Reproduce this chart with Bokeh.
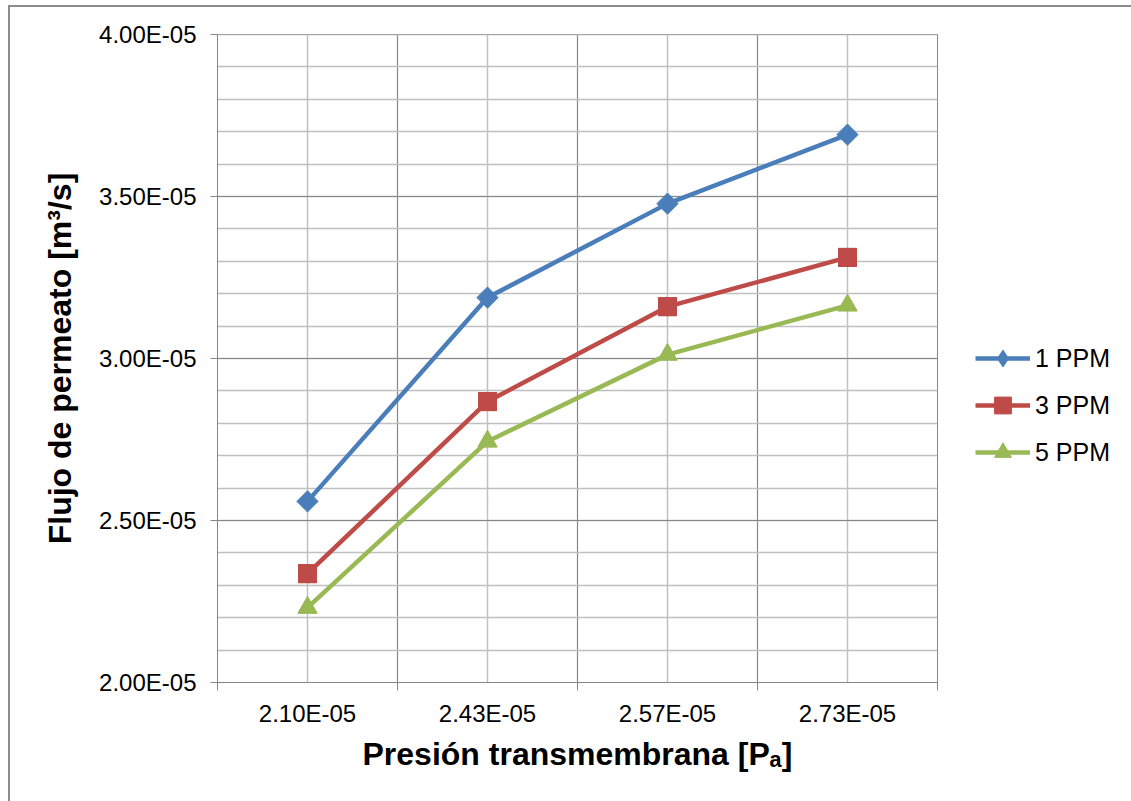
import math
from bokeh.plotting import figure
from bokeh.models import (FixedTicker, CustomJSTickFormatter, Legend, LegendItem,
                          ColumnDataSource)
from bokeh.embed import file_html
from bokeh.resources import INLINE

# Transmembrane pressure categories and permeate flux per concentration
presion_labels = ["2.10E-05", "2.43E-05", "2.57E-05", "2.73E-05"]
flujo_1ppm = [2.559e-5, 3.188e-5, 3.478e-5, 3.691e-5]
flujo_3ppm = [2.336e-5, 2.867e-5, 3.160e-5, 3.312e-5]
flujo_5ppm = [2.231e-5, 2.744e-5, 3.012e-5, 3.164e-5]
series_names = ["1 PPM", "3 PPM", "5 PPM"]

y_major = [2.0e-5, 2.5e-5, 3.0e-5, 3.5e-5, 4.0e-5]
y_minor = [2.0e-5 + i * 0.1e-5 for i in range(21)]

FONT = "Liberation Sans"
DARK = "#868686"
LIGHT = "#c0c0c0"

# category slots: centres at i + 0.5, boundaries at integers
xc = [i + 0.5 for i in range(len(presion_labels))]
xb = [float(i) for i in range(len(presion_labels) + 1)]

p = figure(frame_width=720, frame_height=648,
           min_border_left=207, min_border_right=194,
           min_border_top=27, min_border_bottom=119,
           x_range=(0, len(presion_labels)), y_range=(2.0e-5, 4.0e-5),
           output_backend="svg", toolbar_location=None,
           background_fill_color="white", border_fill_color="white")
p.margin = (5, 0, 0, 8)
p.styles = {"border-top": "2px solid #8c8c8c", "border-left": "2px solid #8c8c8c"}
p.outline_line_color = DARK
p.outline_line_width = 1

# x axis: labels at slot centres, tick marks at slot boundaries
xt = FixedTicker(ticks=xc, minor_ticks=xb)
p.xaxis.ticker = xt
p.xaxis.major_label_overrides = {x: lab for x, lab in zip(xc, presion_labels)}
p.xaxis.major_tick_out = 0
p.xaxis.major_tick_in = 0
p.xaxis.minor_tick_out = 8
p.xaxis.minor_tick_in = 0
p.xaxis.minor_tick_line_color = DARK
p.xaxis.axis_line_color = DARK
p.xaxis.major_label_standoff = 9
p.xaxis.major_label_text_font = FONT
p.xaxis.major_label_text_font_size = "24px"
p.xaxis.major_label_text_color = "black"
p.xaxis.axis_label = "Presión transmembrana [Pₐ]"
p.xaxis.axis_label_text_font = FONT
p.xaxis.axis_label_text_font_style = "bold"
p.xaxis.axis_label_text_font_size = "32px"
p.xaxis.axis_label_text_color = "black"
p.xaxis.axis_label_standoff = 6
p.xgrid.ticker = xt
p.xgrid.grid_line_color = LIGHT
p.xgrid.grid_line_width = 1.5
p.xgrid.minor_grid_line_color = DARK
p.xgrid.minor_grid_line_width = 1.2

# y axis
yt = FixedTicker(ticks=y_major, minor_ticks=y_minor)
p.yaxis.ticker = yt
p.yaxis.formatter = CustomJSTickFormatter(code="""
    const s = tick.toExponential(2).toUpperCase();
    const parts = s.split("E");
    const e = parts[1];
    const sign = e[0] === "-" ? "-" : "+";
    const d = e.replace("-", "").replace("+", "");
    return parts[0] + "E" + sign + d.padStart(2, "0");
""")
p.yaxis.major_tick_out = 7
p.yaxis.major_tick_in = 0
p.yaxis.minor_tick_out = 0
p.yaxis.minor_tick_in = 0
p.yaxis.major_tick_line_color = DARK
p.yaxis.axis_line_color = DARK
p.yaxis.major_label_standoff = 14
p.yaxis.major_label_text_font = FONT
p.yaxis.major_label_text_font_size = "24px"
p.yaxis.major_label_text_color = "black"
p.yaxis.axis_label = "Flujo de permeato [m³/s]"
p.yaxis.axis_label_text_font = FONT
p.yaxis.axis_label_text_font_style = "bold"
p.yaxis.axis_label_text_font_size = "32px"
p.yaxis.axis_label_text_color = "black"
p.yaxis.axis_label_standoff = 18
p.ygrid.ticker = yt
p.ygrid.grid_line_color = DARK
p.ygrid.grid_line_width = 1.2
p.ygrid.minor_grid_line_color = LIGHT
p.ygrid.minor_grid_line_width = 1.5

colors = ["#4A7EBB", "#BE4B48", "#98B954"]
markers = ["square", "square", "triangle"]
legend_markers = ["diamond", "square", "triangle"]
angles = [math.pi / 4, 0.0, 0.0]
sizes = [15, 18, 19]
items = []
for name, vals, col, mk, lmk, ang, sz in zip(series_names,
                                             [flujo_1ppm, flujo_3ppm, flujo_5ppm],
                                             colors, markers, legend_markers, angles, sizes):
    src = ColumnDataSource(dict(x=xc, y=vals))
    ln = p.line("x", "y", source=src, line_color=col, line_width=4.5, line_join="round")
    # key symbol (drawn underneath the point markers, shown in the legend)
    key = p.scatter("x", "y", source=src, marker=lmk, size=sz,
                    fill_color=col, line_color=col)
    p.scatter("x", "y", source=src, marker=mk, size=sz, angle=ang,
              fill_color=col, line_color=col)
    items.append(LegendItem(label=name, renderers=[ln, key]))

legend = Legend(items=items, location=(38, 209), orientation="vertical",
                glyph_width=55, glyph_height=42, label_height=24, spacing=5,
                padding=0, margin=0, label_standoff=5,
                label_text_font=FONT, label_text_font_size="25px",
                label_text_color="black",
                border_line_alpha=0, background_fill_alpha=0)
p.add_layout(legend, "right")

open("out.html", "w").write(file_html(p, INLINE))
